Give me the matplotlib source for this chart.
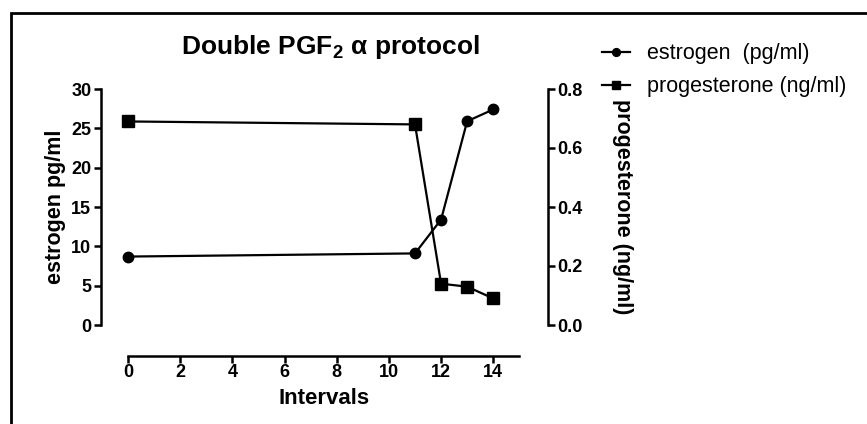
import matplotlib
matplotlib.use("Agg")
import matplotlib.pyplot as plt
from matplotlib.patches import Rectangle

# data
intervals = [0, 11, 12, 13, 14]
estrogen = [8.7, 9.1, 13.4, 25.9, 27.4]
progesterone = [0.69, 0.68, 0.14, 0.13, 0.09]

plt.rcParams["font.family"] = ["Liberation Sans", "DejaVu Sans"]
plt.rcParams["font.weight"] = "bold"
plt.rcParams["axes.labelweight"] = "bold"
plt.rcParams["mathtext.fontset"] = "custom"
plt.rcParams["mathtext.rm"] = "Liberation Sans:bold"
plt.rcParams["mathtext.bf"] = "Liberation Sans:bold"
plt.rcParams["mathtext.it"] = "Liberation Sans"

W, H = 867, 424
fig = plt.figure(figsize=(W / 100, H / 100), dpi=100)

# frame around the figure (only top and left visible)
fig.patches.append(Rectangle((11 / W, -0.2), 1.2, 1.2 - 13 / H, transform=fig.transFigure,
                             fill=False, edgecolor="black", linewidth=2))

# axes box: left spine x=101, right spine x=548, y 0 at 325, y 30 at 89
ax = fig.add_axes([101 / W, 1 - 325 / H, (548 - 101) / W, (325 - 89) / H])
ax2 = ax.twinx()

ax.plot(intervals, estrogen, color="black", lw=1.6, marker="o", ms=7.5, label="estrogen  (pg/ml)")
ax2.plot(intervals, progesterone, color="black", lw=1.6, marker="s", ms=8, label="progesterone (ng/ml)")

ax.set_xlim(-1.04, 16.1)
ax.set_ylim(0, 30)
ax2.set_ylim(0, 0.8)

ax.set_xticks(range(0, 15, 2))
ax.set_yticks(range(0, 31, 5))
ax2.set_yticks([0.0, 0.2, 0.4, 0.6, 0.8])
ax2.set_yticklabels(["0.0", "0.2", "0.4", "0.6", "0.8"])

for a in (ax, ax2):
    a.spines["top"].set_visible(False)
    for s in a.spines.values():
        s.set_linewidth(1.8)
    a.tick_params(width=1.8, length=5, labelsize=13, pad=2)

ax.spines["right"].set_visible(False)
ax2.spines["left"].set_visible(False)
ax2.spines["bottom"].set_visible(False)
ax.spines["left"].set_bounds(0, 30)
ax2.spines["right"].set_bounds(0, 0.8)
ax.spines["bottom"].set_position(("outward", 22))
ax.spines["bottom"].set_bounds(0, 15)
ax.tick_params(axis="x", pad=1)

ax.set_xlabel("Intervals", fontsize=16, fontweight="bold", labelpad=5)
ax.set_ylabel("estrogen pg/ml", fontsize=15.5, fontweight="bold", labelpad=4)
ax2.set_ylabel("progesterone (ng/ml)", fontsize=15.5, fontweight="bold", rotation=270, labelpad=36)

fig.text(330 / W, 1 - 47 / H, r"Double PGF$_\mathbf{2}$ $\alpha$ protocol", fontsize=19,
         ha="center", va="center")

h1, l1 = ax.get_legend_handles_labels()
h2, l2 = ax2.get_legend_handles_labels()
fig.legend(h1 + h2, l1 + l2, loc="upper left", bbox_to_anchor=(583 / W, 1 - 24 / H),
           frameon=False, prop={"size": 15.5, "weight": "normal"}, handlelength=1.3,
           markerscale=0.75, labelspacing=0.55, handletextpad=0.75)

fig.savefig("out.png", dpi=100)
